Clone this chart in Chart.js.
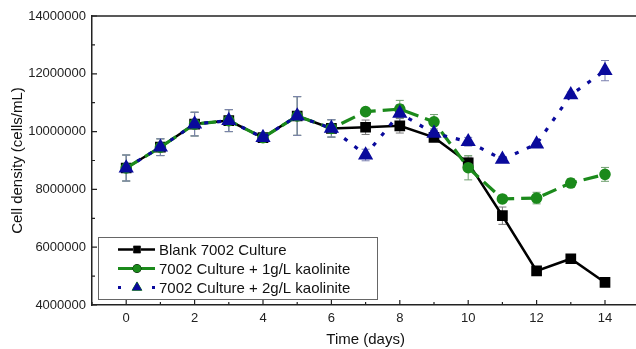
<!DOCTYPE html>
<html>
<head>
<meta charset="utf-8">
<script src="https://cdn.jsdelivr.net/npm/chart.js@4.4.1/dist/chart.umd.min.js"></script>
<style>
  html, body { margin: 0; padding: 0; background: #fff; overflow: hidden; }
  #wrap { width: 648px; height: 349px; }
</style>
</head>
<body>
<div id="wrap"><canvas id="chart"></canvas></div>
<script>
// time axis (days)
const days = [0, 1, 2, 3, 4, 5, 6, 7, 8, 9, 10, 11, 12, 13, 14]

// cell density (cells/mL)
const blank = [8740000, 9460000, 10260000, 10380000, 9790000, 10540000, 10110000, 10150000, 10200000, 9800000, 8920000, 7090000, 5180000, 5600000, 4780000]
const kaolin1 = [8740000, 9460000, 10260000, 10380000, 9790000, 10540000, 10110000, 10690000, 10780000, 10340000, 8750000, 7670000, 7700000, 8220000, 8520000]
const kaolin2 = [8740000, 9460000, 10260000, 10380000, 9790000, 10540000, 10110000, 9190000, 10630000, 9940000, 9650000, 9040000, 9570000, 11270000, 12110000]

// error bars (+/-)
const blankErr = [450000, 290000, 410000, 380000, 100000, 670000, 300000, 250000, 250000, 100000, 200000, 300000, 100000, 50000, 50000]
const kaolin1Err = [450000, 290000, 410000, 380000, 100000, 670000, 300000, 100000, 300000, 250000, 420000, 100000, 200000, 150000, 240000]
const kaolin2Err = [450000, 290000, 410000, 380000, 100000, 670000, 300000, 200000, 300000, 100000, 150000, 100000, 50000, 100000, 350000]

const xTicks = [0, 2, 4, 6, 8, 10, 12, 14]
const seriesNames = ['Blank 7002 Culture', '7002 Culture + 1g/L kaolinite', '7002 Culture + 2g/L kaolinite']

const FONT = "'Liberation Sans', Arial, sans-serif"
const toPoints = ys => days.map((d, i) => ({ x: d, y: ys[i] }))

// error bars under the lines
const errorBars = {
  id: 'errorBars',
  beforeDatasetsDraw (chart) {
    const { ctx, scales: { x, y } } = chart
    ctx.save()
    ctx.lineWidth = 1
    chart.data.datasets.forEach(ds => {
      ctx.strokeStyle = ds.errColor
      ds.data.forEach((p, i) => {
        const e = ds.err[i]
        const px = x.getPixelForValue(p.x)
        const top = y.getPixelForValue(p.y + e)
        const bot = y.getPixelForValue(p.y - e)
        ctx.beginPath()
        ctx.moveTo(px, top); ctx.lineTo(px, bot)
        ctx.moveTo(px - 4, top); ctx.lineTo(px + 4, top)
        ctx.moveTo(px - 4, bot); ctx.lineTo(px + 4, bot)
        ctx.stroke()
      })
    })
    ctx.restore()
  }
}

// frame top + inward ticks + boxed legend
const frame = {
  id: 'frame',
  afterDraw (chart) {
    const { ctx, chartArea: a, scales: { x, y } } = chart
    ctx.save()
    ctx.strokeStyle = '#222'
    ctx.lineWidth = 1.5
    ctx.beginPath()
    ctx.moveTo(a.left, a.top); ctx.lineTo(a.right + 2, a.top)
    ctx.stroke()
    ctx.lineWidth = 1.2
    ctx.beginPath()
    for (let d = -1; d <= 15; d++) {
      const px = x.getPixelForValue(d)
      ctx.moveTo(px, a.bottom); ctx.lineTo(px, a.bottom - (d % 2 === 0 ? 5 : 3))
    }
    for (let v = 4000000; v <= 14000000; v += 1000000) {
      const py = y.getPixelForValue(v)
      ctx.moveTo(a.left, py); ctx.lineTo(a.left + (v % 2000000 === 0 ? 5 : 3), py)
    }
    ctx.stroke()

    // legend
    ctx.fillStyle = '#fff'
    ctx.fillRect(98, 237, 279, 62)
    ctx.strokeStyle = '#666'
    ctx.lineWidth = 1
    ctx.strokeRect(98.5, 237.5, 279, 62)
    ctx.font = '15px ' + FONT
    ctx.textBaseline = 'middle'
    const rows = [249.5, 268.5, 287.5]
    chart.data.datasets.forEach((ds, i) => {
      const ly = rows[i]
      ctx.save()
      ctx.strokeStyle = ds.borderColor
      ctx.lineWidth = ds.borderWidth
      ctx.setLineDash(ds.legendDash || [])
      ctx.beginPath()
      ctx.moveTo(118, ly); ctx.lineTo(155, ly)
      ctx.stroke()
      ctx.restore()
      Chart.helpers.drawPoint(ctx, {
        pointStyle: ds.pointStyle,
        radius: ds.legendRadius,
        rotation: 0,
        borderWidth: 1
      }, 137, ly)
      ctx.fillStyle = ds.pointBackgroundColor
      ctx.strokeStyle = ds.pointBorderColor
      ctx.fill()
      ctx.fillStyle = '#111'
      ctx.fillText(ds.label, 159, ly + 1)
    })
    ctx.restore()
  }
}

new Chart(document.getElementById('chart'), {
  type: 'line',
  data: {
    datasets: [
      {
        label: seriesNames[0],
        data: toPoints(blank),
        err: blankErr,
        errColor: '#7a7a7a',
        borderColor: '#000',
        borderWidth: 2.5,
        pointStyle: 'rect',
        pointRadius: 5.8,
        legendRadius: 5,
        pointBackgroundColor: '#000',
        pointBorderColor: '#000',
        order: 2
      },
      {
        label: seriesNames[1],
        data: toPoints(kaolin1),
        err: kaolin1Err,
        errColor: '#6f9f6f',
        borderColor: '#1b8a1b',
        borderWidth: 3.2,
        borderDash: [15, 7],
        pointStyle: 'circle',
        pointRadius: 4.2,
        legendRadius: 4,
        pointBackgroundColor: '#1b8a1b',
        pointBorderColor: '#1b8a1b',
        order: 1
      },
      {
        label: seriesNames[2],
        data: toPoints(kaolin2),
        err: kaolin2Err,
        errColor: '#7b80b0',
        borderColor: '#0a0a9c',
        borderWidth: 3.2,
        borderDash: [4, 9],
        legendDash: [3, 14],
        pointStyle: 'triangle',
        pointRadius: 5.6,
        legendRadius: 5.6,
        pointBackgroundColor: '#0a0a9c',
        pointBorderColor: '#0a0a9c',
        order: 0
      }
    ]
  },
  options: {
    responsive: true,
    maintainAspectRatio: false,
    animation: false,
    layout: { padding: { top: 16, left: 0, right: 2, bottom: 0 } },
    plugins: {
      legend: { display: false },
      tooltip: { enabled: false }
    },
    elements: { line: { tension: 0, fill: false } },
    scales: {
      x: {
        type: 'linear',
        min: -1,
        max: 15,
        afterBuildTicks: scale => { scale.ticks = xTicks.map(v => ({ value: v })) },
        afterFit: scale => { scale.height = 44 },
        grid: { display: false, tickLength: 0 },
        border: { display: true, color: '#222', width: 1.5 },
        ticks: { color: '#222', font: { family: FONT, size: 13 }, padding: 6, maxRotation: 0 },
        title: { display: true, text: 'Time (days)', color: '#111', font: { family: FONT, size: 15 }, padding: { top: 4, bottom: 0 } }
      },
      y: {
        type: 'linear',
        min: 4000000,
        max: 14000000,
        afterFit: scale => { scale.width = 92 },
        grid: { display: false, tickLength: 0 },
        border: { display: true, color: '#222', width: 1.5 },
        ticks: { stepSize: 2000000, color: '#222', font: { family: FONT, size: 13 }, padding: 6, callback: v => String(v) },
        title: { display: true, text: 'Cell density (cells/mL)', color: '#111', font: { family: FONT, size: 15 }, padding: { top: 9, bottom: 0 } }
      }
    }
  },
  plugins: [errorBars, frame]
})
</script>
</body>
</html>
